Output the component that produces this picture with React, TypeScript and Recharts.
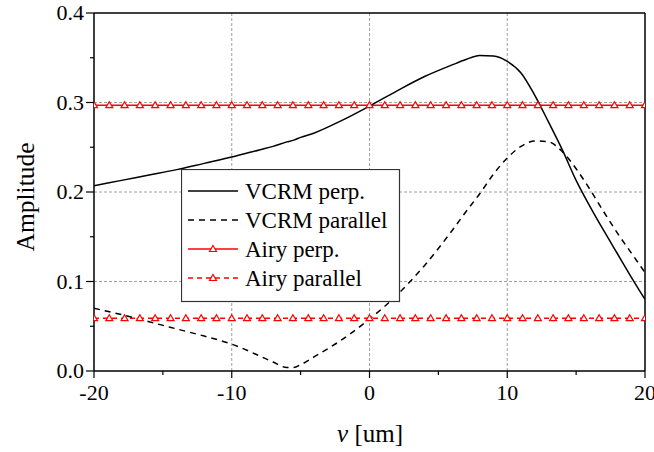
import React from 'react';
import { LineChart, Line, XAxis, YAxis, Legend, ReferenceLine } from 'recharts';

// VCRM curves
const vcrmV = [-20, -18, -16, -14, -12, -10, -8, -7, -6, -5.5, -5, -4, -2, 0, 2, 4, 6, 7, 8, 9, 10, 11, 12, 13, 14, 15, 16, 17, 18, 19, 20];
const vcrmPerp = [0.207, 0.213, 0.219, 0.225, 0.232, 0.239, 0.247, 0.251, 0.256, 0.258, 0.261, 0.266, 0.28, 0.296, 0.313, 0.329, 0.342, 0.348, 0.3525, 0.352, 0.346, 0.333, 0.308, 0.278, 0.247, 0.213, 0.184, 0.157, 0.131, 0.105, 0.08];
const vcrmParallel = [0.07, 0.063, 0.055, 0.047, 0.039, 0.03, 0.017, 0.01, 0.004, 0.004, 0.007, 0.016, 0.035, 0.058, 0.085, 0.118, 0.157, 0.178, 0.198, 0.22, 0.238, 0.251, 0.257, 0.256, 0.245, 0.226, 0.203, 0.178, 0.154, 0.132, 0.11];

// Airy curves (flat), sampled where the markers sit
const airyV = [-20, -18.89, -17.78, -16.67, -15.56, -14.44, -13.33, -12.22, -11.11, -10, -8.89, -7.78, -6.67, -5.56, -4.44, -3.33, -2.22, -1.11, 0, 1.11, 2.22, 3.33, 4.44, 5.56, 6.67, 7.78, 8.89, 10, 11.11, 12.22, 13.33, 14.44, 15.56, 16.67, 17.78, 18.89, 20];
const airyPerp = [0.297, 0.297, 0.297, 0.297, 0.297, 0.297, 0.297, 0.297, 0.297, 0.297, 0.297, 0.297, 0.297, 0.297, 0.297, 0.297, 0.297, 0.297, 0.297, 0.297, 0.297, 0.297, 0.297, 0.297, 0.297, 0.297, 0.297, 0.297, 0.297, 0.297, 0.297, 0.297, 0.297, 0.297, 0.297, 0.297, 0.297];
const airyParallel = [0.059, 0.059, 0.059, 0.059, 0.059, 0.059, 0.059, 0.059, 0.059, 0.059, 0.059, 0.059, 0.059, 0.059, 0.059, 0.059, 0.059, 0.059, 0.059, 0.059, 0.059, 0.059, 0.059, 0.059, 0.059, 0.059, 0.059, 0.059, 0.059, 0.059, 0.059, 0.059, 0.059, 0.059, 0.059, 0.059, 0.059];

const xTicks = [-20, -15, -10, -5, 0, 5, 10, 15, 20];
const yTicks = [0, 0.05, 0.1, 0.15, 0.2, 0.25, 0.3, 0.35, 0.4];
const xGrid = [-10, 0, 10];
const yGrid = [0.1, 0.2, 0.3];

const legendItems = [
  { name: 'VCRM perp.', color: '#000', dash: undefined, marker: false },
  { name: 'VCRM parallel', color: '#000', dash: '6 5', marker: false },
  { name: 'Airy perp.', color: '#ff0000', dash: undefined, marker: true },
  { name: 'Airy parallel', color: '#ff0000', dash: '5 4', marker: true },
];

const rows = (xs: number[], ys: number[]) => xs.map((v, i) => ({ v, y: ys[i] }));

const FONT = "'Liberation Serif', 'Times New Roman', serif";
const RED = '#ff0000';
const txt = (size: number): React.CSSProperties => ({ fontFamily: FONT, fontSize: size, fill: '#000' });

const triPath = (cx: number, cy: number) =>
  `M${cx},${cy - 3.5} L${cx + 3.5},${cy + 2.5} L${cx - 3.5},${cy + 2.5} Z`;

const Triangle = (props: any) => {
  const { cx, cy, index } = props;
  if (cx == null || cy == null) return <g key={`t-${index}`} />;
  return <path key={`t-${index}`} d={triPath(cx, cy)} fill="#fff" stroke={RED} strokeWidth={1.2} />;
};

const isMajorX = (v: number) => v % 10 === 0;
const isMajorY = (v: number) => Math.round(v * 100) % 10 === 0;

const BottomTick = (props: any) => {
  const { x, y, payload } = props;
  const major = isMajorX(payload.value);
  return (
    <g>
      <line x1={x} y1={y} x2={x} y2={y + (major ? 7 : 4)} stroke="#000" strokeWidth={1.2} />
      {major && (
        <text x={x} y={y + 29} textAnchor="middle" style={txt(22)}>
          {String(payload.value)}
        </text>
      )}
    </g>
  );
};

const LeftTick = (props: any) => {
  const { x, y, payload } = props;
  const major = isMajorY(payload.value);
  return (
    <g>
      <line x1={x} y1={y} x2={x - (major ? 8 : 4)} y2={y} stroke="#000" strokeWidth={1.2} />
      {major && (
        <text x={x - 10} y={y + 7} textAnchor="end" style={txt(22)}>
          {payload.value.toFixed(1)}
        </text>
      )}
    </g>
  );
};

const RightTick = (props: any) => {
  const { x, y, payload } = props;
  if (payload.value === 0 || payload.value === 0.4) return <g />;
  return <line x1={x} y1={y} x2={x - 6} y2={y} stroke="#000" strokeWidth={1.2} />;
};

const LegendBox = () => (
  <svg width={220} height={134} style={{ display: 'block' }}>
    <rect x={0.5} y={0.5} width={218} height={132} fill="#fff" stroke="#333" strokeWidth={1.2} />
    {legendItems.map((item, i) => {
      const cy = 22 + i * 29;
      return (
        <g key={item.name}>
          <line x1={7} y1={cy} x2={57} y2={cy} stroke={item.color} strokeWidth={1.5} strokeDasharray={item.dash} />
          {item.marker && <path d={triPath(32, cy)} fill="#fff" stroke={RED} strokeWidth={1.2} />}
          <text x={64} y={cy + 8} style={txt(23)}>
            {item.name}
          </text>
        </g>
      );
    })}
  </svg>
);

export default function App() {
  return (
    <div style={{ position: 'absolute', left: 0, top: 0, fontFamily: FONT }}>
      <LineChart width={654} height={452} margin={{ top: 0, right: 0, bottom: 0, left: 0 }}>
        <XAxis
          type="number"
          dataKey="v"
          domain={[-20, 20]}
          ticks={xTicks}
          interval={0}
          height={81}
          tickSize={0}
          tickMargin={0}
          tick={<BottomTick />}
          axisLine={{ stroke: '#000', strokeWidth: 1.5 }}
          allowDataOverflow
          label={{
            content: () => (
              <text x={370} y={442} textAnchor="middle" style={txt(25)}>
                <tspan fontStyle="italic">v</tspan> [um]
              </text>
            ),
          }}
        />
        <XAxis
          xAxisId="top"
          orientation="top"
          type="number"
          domain={[-20, 20]}
          height={13}
          tick={false}
          tickLine={false}
          axisLine={{ stroke: '#000', strokeWidth: 1.5 }}
        />
        <YAxis
          type="number"
          domain={[0, 0.4]}
          ticks={yTicks}
          interval={0}
          width={94}
          tickSize={0}
          tickMargin={0}
          tick={<LeftTick />}
          axisLine={{ stroke: '#000', strokeWidth: 1.5 }}
          allowDataOverflow
          label={{
            content: () => (
              <text x={34} y={197} transform="rotate(-90 34 197)" textAnchor="middle" style={txt(25.5)}>
                Amplitude
              </text>
            ),
          }}
        />
        <YAxis
          yAxisId="right"
          orientation="right"
          type="number"
          domain={[0, 0.4]}
          ticks={yTicks}
          interval={0}
          width={9}
          tickSize={0}
          tickMargin={0}
          tick={<RightTick />}
          axisLine={{ stroke: '#000', strokeWidth: 1.5 }}
        />
        {xGrid.map((v) => (
          <ReferenceLine key={`gx${v}`} x={v} stroke="#a0a0a0" strokeDasharray="3 2" />
        ))}
        {yGrid.map((v) => (
          <ReferenceLine key={`gy${v}`} y={v} stroke="#a0a0a0" strokeDasharray="3 2" />
        ))}
        <Line data={rows(airyV, airyPerp)} dataKey="y" name="Airy perp." stroke={RED} strokeWidth={1.5} dot={Triangle} isAnimationActive={false} />
        <Line data={rows(airyV, airyParallel)} dataKey="y" name="Airy parallel" stroke={RED} strokeWidth={1.5} strokeDasharray="5 4" dot={Triangle} isAnimationActive={false} />
        <Line data={rows(vcrmV, vcrmPerp)} type="monotone" dataKey="y" name="VCRM perp." stroke="#000" strokeWidth={1.5} dot={false} isAnimationActive={false} />
        <Line data={rows(vcrmV, vcrmParallel)} type="monotone" dataKey="y" name="VCRM parallel" stroke="#000" strokeWidth={1.5} strokeDasharray="6 5" dot={false} isAnimationActive={false} />
        <Legend
          layout="vertical"
          align="center"
          verticalAlign="middle"
          content={() => <LegendBox />}
          wrapperStyle={{ position: 'absolute', left: 181, top: 169, width: 220, height: 134 }}
        />
      </LineChart>
    </div>
  );
}
